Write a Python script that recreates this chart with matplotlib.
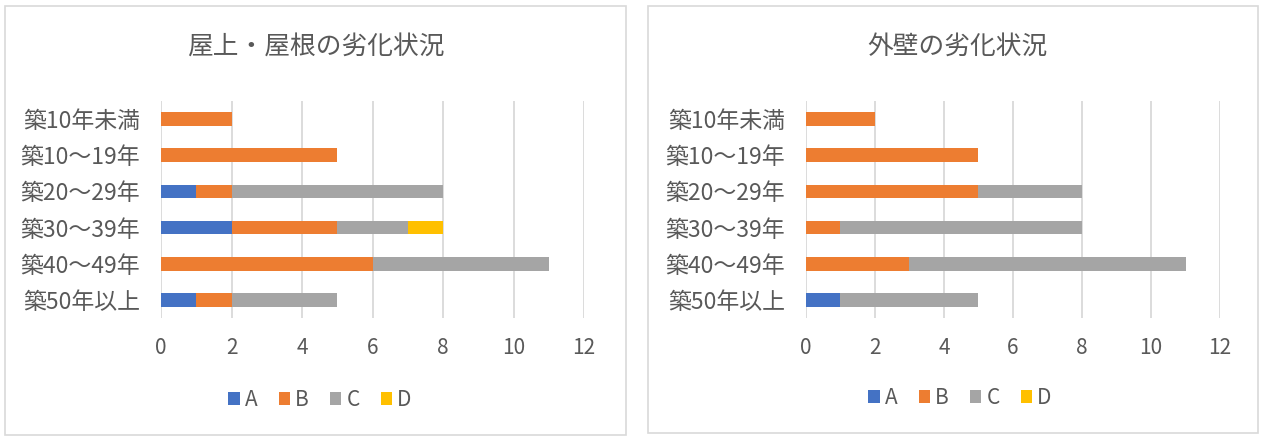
import matplotlib.pyplot as plt
from matplotlib.patches import Rectangle
import numpy as np

plt.rcParams['font.family'] = ['Noto Sans CJK JP', 'DejaVu Sans']

categories = ['築10年未満', '築10～19年', '築20～29年', '築30～39年', '築40～49年', '築50年以上']
series_names = ['A', 'B', 'C', 'D']
colors = ['#4472C4', '#ED7D31', '#A5A5A5', '#FFC000']

# roof / rooftop
roof_a = [0, 0, 1, 2, 0, 1]
roof_b = [2, 5, 1, 3, 6, 1]
roof_c = [0, 0, 6, 2, 5, 3]
roof_d = [0, 0, 0, 1, 0, 0]

# outer wall
wall_a = [0, 0, 0, 0, 0, 1]
wall_b = [2, 5, 5, 1, 3, 0]
wall_c = [0, 0, 3, 7, 8, 4]
wall_d = [0, 0, 0, 0, 0, 0]

xticks = [0, 2, 4, 6, 8, 10, 12]

W, H = 1262, 436
txt = '#595959'
grid = '#D9D9D9'

fig = plt.figure(figsize=(W / 100, H / 100), dpi=100)

def px(x0, y0, x1, y1):
    # pixel box (top-left origin) -> figure fraction [l, b, w, h]
    return [x0 / W, 1 - y1 / H, (x1 - x0) / W, (y1 - y0) / H]

def panel(x0, y0, x1, y1):
    fig.patches.append(Rectangle((x0 / W, 1 - y1 / H), (x1 - x0) / W, (y1 - y0) / H,
                                 transform=fig.transFigure, fill=False,
                                 edgecolor=grid, linewidth=1.2))

def draw(box, title, title_xy, legend_xy, data):
    ax = fig.add_axes(px(*box))
    y = np.arange(len(categories))
    left = np.zeros(len(categories))
    for name, vals, c in zip(series_names, data, colors):
        vals = np.array(vals, dtype=float)
        ax.barh(y, vals, left=left, height=0.38, color=c, label=name, zorder=3)
        left += vals
    ax.set_xlim(0, 12)
    ax.set_ylim(len(categories) - 0.5, -0.5)
    ax.set_yticks(y)
    ax.set_yticklabels(categories)
    ax.set_xticks(xticks)
    ax.tick_params(axis='both', length=0, colors=txt)
    ax.tick_params(axis='y', pad=15, labelsize=16.5)
    ax.tick_params(axis='x', pad=14, labelsize=15)
    ax.grid(axis='x', color=grid, linewidth=1.3, zorder=0)
    for s in ax.spines.values():
        s.set_visible(False)
    fig.text(title_xy[0] / W, 1 - title_xy[1] / H, title, ha='center', va='center',
             fontsize=18.5, color=txt)
    leg = ax.legend(loc='center', bbox_to_anchor=(legend_xy[0] / W, 1 - legend_xy[1] / H),
                    bbox_transform=fig.transFigure, ncol=4, frameon=False,
                    fontsize=15, handlelength=0.55, handleheight=0.55,
                    handletextpad=0.25, columnspacing=1.0)
    for t in leg.get_texts():
        t.set_color(txt)
    return ax

panel(5, 6, 626, 435)
panel(648, 6, 1258, 433)

draw((161, 101, 584, 318), '屋上・屋根の劣化状況', (316, 47), (320, 400),
     [roof_a, roof_b, roof_c, roof_d])
draw((806, 101, 1220, 318), '外壁の劣化状況', (957, 47), (960, 398),
     [wall_a, wall_b, wall_c, wall_d])

fig.savefig('out.png', dpi=100)
